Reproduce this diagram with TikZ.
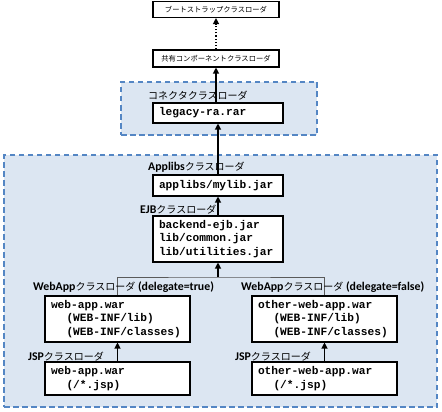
\documentclass[tikz,border=0pt]{standalone}
\usepackage{fontspec}
\usetikzlibrary{arrows.meta}
\newfontfamily\jp{Noto Sans CJK JP}
\newfontfamily\lat{Carlito}
\newfontfamily\mono{Liberation Mono}
\newcommand\latb[1]{{\lat\bfseries\fontsize{11.8}{12}\selectfont #1}}
\definecolor{grpfill}{RGB}{220,230,242}
\definecolor{grpline}{RGB}{84,134,196}
\definecolor{brk}{RGB}{90,90,90}
\tikzset{
  grp/.style={draw=grpline, line width=1.4pt, dash pattern=on 5.5pt off 3.5pt, fill=grpfill, rectangle, inner sep=0pt},
  jbox/.style={draw=black, line width=1.1pt, fill=white, rectangle, inner sep=0pt, font=\jp\fontsize{7.3}{9}\selectfont},
  cbox/.style={draw=black, line width=1.1pt, fill=white, rectangle, inner ysep=0pt, inner xsep=6pt, align=left,
    font=\mono\bfseries\fontsize{11.2}{13.4}\selectfont},
  lbl/.style={anchor=west, inner sep=0pt, font=\jp\fontsize{10}{12}\selectfont},
  arr/.style={-{Triangle[length=6pt,width=6pt]}, line width=1.2pt, black},
  brkline/.style={draw=brk, line width=0.8pt},
}
\newcommand\ind{\hspace*{15.5pt}}
\begin{document}
\begin{tikzpicture}[x=1pt,y=-1pt]
\useasboundingbox (0,0) rectangle (442,412);
% groups
\node[grp, minimum width=196pt, minimum height=53pt] (conng) at (219,108.5) {};
\node[grp, minimum width=433pt, minimum height=252pt] (appg) at (220.5,281) {};
% boxes
\node[jbox, minimum width=126pt, minimum height=16pt] (boot) at (216,9.5) {ブートストラップクラスローダ};
\node[jbox, minimum width=126pt, minimum height=17pt] (shared) at (216,58.5) {共有コンポーネントクラスローダ};
\node[cbox, text width=118pt, minimum height=20pt] (legacy) at (218,113) {legacy-ra.rar};
\node[cbox, text width=118pt, minimum height=21pt] (applibs) at (218,185.5) {applibs/mylib.jar};
\node[cbox, text width=118pt, minimum height=46pt] (ejb) at (218,239) {backend-ejb.jar\\lib/common.jar\\lib/utilities.jar};
\node[cbox, text width=133pt, minimum height=46pt] (wal) at (117.5,319) {web-app.war\\\ind(WEB-INF/lib)\\\ind(WEB-INF/classes)};
\node[cbox, text width=133pt, minimum height=46pt] (war) at (324.5,319) {other-web-app.war\\\ind(WEB-INF/lib)\\\ind(WEB-INF/classes)};
\node[cbox, text width=133pt, minimum height=33pt] (jspl) at (117.5,378.5) {web-app.war\\\ind(/*.jsp)};
\node[cbox, text width=133pt, minimum height=33pt] (jspr) at (324.5,378.5) {other-web-app.war\\\ind(/*.jsp)};
% connectors
\coordinate (br) at (218,277);
\draw[brkline] (wal.north) |- (br) -| (war.north);
\draw[arr, dotted] (shared.north -| boot.south) -- (boot.south);
\draw[arr] (legacy.north -| shared.south) -- (shared.south);
\draw[arr] (applibs.north) -- (legacy.south);
\draw[arr] (ejb.north) -- (applibs.south);
\draw[arr] (br) -- (ejb.south);
\draw[arr] (jspl.north) -- (wal.south);
\draw[arr] (jspr.north) -- (war.south);
% labels
\node[lbl] (conlbl) at (148,96) {コネクタクラスローダ};
\node[lbl] (applbl) at (148,167) {\latb{Applibs}クラスローダ};
\node[lbl] (ejblbl) at (140,210) {\latb{EJB}クラスローダ};
\node[lbl] (walbl) at (33,287) {\latb{WebApp}クラスローダ\latb{ (delegate=true)}};
\node[lbl] (warlbl) at (241,287) {\latb{WebApp}クラスローダ\latb{ (delegate=false)}};
\node[lbl] (jspllbl) at (28,357) {\latb{JSP}クラスローダ};
\node[lbl] (jsprlbl) at (235,357) {\latb{JSP}クラスローダ};
\end{tikzpicture}
\end{document}
